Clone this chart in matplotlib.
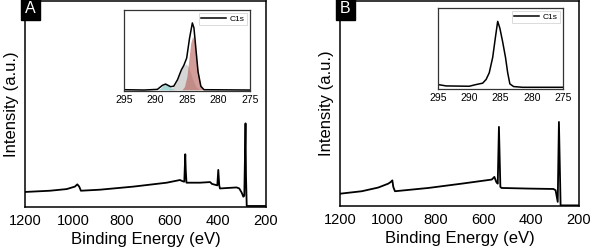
import matplotlib
matplotlib.use("Agg")
import matplotlib.pyplot as plt

plt.rcParams['font.family'] = ['Liberation Sans', 'DejaVu Sans']

# survey spectra (binding energy eV, intensity a.u.)
survey_a_x = [1200, 1096, 1027, 993, 983, 975, 968, 889, 750, 612, 557, 546, 539,
              535, 533, 530, 474, 432, 424, 402, 398, 394, 391, 322, 311, 301,
              294, 290, 285, 283, 280, 200]
survey_a_y = [7.3, 7.9, 8.7, 9.9, 11.0, 9.9, 7.9, 8.4, 9.9, 11.8, 13.1, 12.5, 12.3,
              25.6, 18.0, 11.8, 11.8, 12.1, 11.2, 10.5, 18.0, 10.5, 9.0, 9.5, 9.0, 7.0,
              5.0, 5.5, 40.6, 15.0, 0.5, 0.5]

survey_b_x = [1200, 1109, 1040, 998, 988, 981, 977, 970, 830, 691, 565, 554, 546,
              540, 535, 529, 524, 412, 307, 298, 289, 284, 277, 200]
survey_b_y = [6.0, 7.2, 9.0, 10.9, 11.7, 12.5, 9.3, 7.2, 8.8, 10.9, 12.9, 14.2, 11.7,
              10.9, 38.6, 9.3, 8.8, 8.5, 8.3, 7.7, 2.0, 41.0, 0.3, 0.3]

# C1s high resolution, sample A
c1s_a_x = [295, 291.8, 289.7, 288.9, 288.4, 287.6, 287.1, 286.5, 285.9, 285.5, 285.05,
           284.6, 284.15, 283.9, 283.6, 283.25, 282.8, 282.3, 275]
c1s_a_y = [1.6, 1.2, 2.0, 7.0, 8.6, 5.3, 6.0, 14.0, 26.0, 31.7, 40.7,
           65.0, 84.0, 78.0, 53.0, 24.0, 5.8, 1.6, 1.2]

# fitted components, sample A
fit_red_x = [285.8, 285.4, 285.0, 284.7, 284.4, 284.1, 283.8, 283.5, 283.2, 282.9, 282.5, 282.2]
fit_red_y = [1.5, 5.5, 18.5, 39.5, 59.5, 67.5, 61.5, 41.5, 21.5, 8.5, 2.5, 1.5]
fit_gray_x = [288.0, 287.5, 287.0, 286.5, 286.0, 285.6, 285.2, 284.8, 284.4, 284.0, 283.6, 283.2, 282.8]
fit_gray_y = [1.5, 3.5, 6.5, 13.5, 23.5, 30.5, 33.5, 30.5, 21.5, 12.5, 5.5, 2.5, 1.5]
fit_cyan_x = [289.6, 289.2, 288.8, 288.4, 288.0, 287.6, 287.2, 286.8]
fit_cyan_y = [1.5, 3.5, 7.0, 8.5, 7.0, 4.0, 2.0, 1.5]

# C1s high resolution, sample B
c1s_b_x = [295, 293.7, 290, 288.9, 287.85, 287.3, 286.8, 286.25, 285.8, 285.45, 285.1,
           284.65, 284.2, 283.85, 283.5, 282.9, 281.45, 275]
c1s_b_y = [5.5, 3.8, 3.4, 5.5, 7.2, 11.8, 20.0, 39.0, 64.5, 83.5, 75.0,
           58.0, 39.0, 20.0, 6.3, 3.0, 2.1, 2.1]

survey_ticks = [1200, 1000, 800, 600, 400, 200]
inset_ticks = [295, 290, 285, 280, 275]

W, H = 591, 252
fig = plt.figure(figsize=(W / 100, H / 100), dpi=100)


def px_axes(left, top, right, bottom):
    return fig.add_axes([left / W, (H - bottom) / H, (right - left) / W, (bottom - top) / H])


def survey(ax, x, y, letter):
    ax.plot(x, y, color='black', lw=1.3)
    ax.set_xlim(1200, 200)
    ax.set_ylim(0, 100)
    ax.set_xticks(survey_ticks)
    ax.set_yticks([])
    ax.tick_params(axis='x', length=0, pad=5, labelsize=10.5)
    ax.set_xlabel('Binding Energy (eV)', fontsize=12, labelpad=3)
    ax.set_ylabel('Intensity (a.u.)', fontsize=12, labelpad=4)
    for s in ax.spines.values():
        s.set_linewidth(1.1)
    ax.text(0.0, 1.0, letter, transform=ax.transAxes, ha='left', va='top',
            color='white', fontsize=11.5,
            bbox=dict(boxstyle='square,pad=0.25', fc='black', ec='black'))


def inset(ax, x, y):
    ax.plot(x, y, color='black', lw=1.1, label='C1s')
    ax.set_xlim(295, 275)
    ax.set_ylim(0, 100)
    ax.set_xticks(inset_ticks)
    ax.set_yticks([])
    ax.tick_params(axis='x', length=0, pad=3, labelsize=7.5)
    for s in ax.spines.values():
        s.set_linewidth(0.9)
        s.set_color('#333333')
    leg = ax.legend(loc='upper right', fontsize=6, frameon=True, fancybox=False,
                    handlelength=3.0, borderpad=0.25, handletextpad=0.4,
                    borderaxespad=0.4)
    leg.get_frame().set_edgecolor('#cccccc')
    leg.get_frame().set_linewidth(0.6)


ax_a = px_axes(25, 1, 266, 207)
survey(ax_a, survey_a_x, survey_a_y, 'A')
ax_b = px_axes(340, 1, 579, 206)
survey(ax_b, survey_b_x, survey_b_y, 'B')

in_a = px_axes(124, 10, 250, 91)
in_a.fill_between(fit_gray_x, 1.5, fit_gray_y, color='#b9b9b9', alpha=0.6, lw=0)
in_a.fill_between(fit_cyan_x, 1.5, fit_cyan_y, color='#6cbcbc', alpha=0.6, lw=0)
in_a.fill_between(fit_red_x, 1.5, fit_red_y, color='#b45a55', alpha=0.6, lw=0)
inset(in_a, c1s_a_x, c1s_a_y)

in_b = px_axes(438, 8, 563, 89)
inset(in_b, c1s_b_x, c1s_b_y)

fig.savefig('out.png', dpi=100)
